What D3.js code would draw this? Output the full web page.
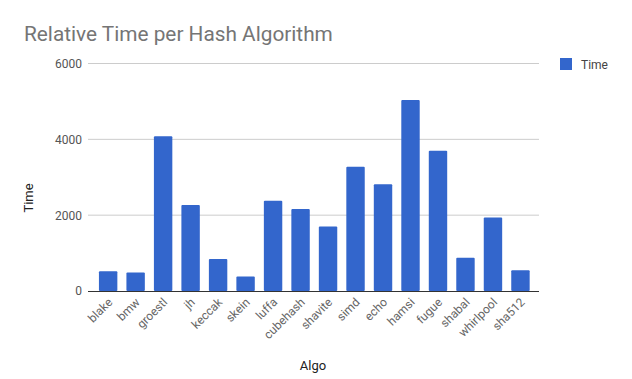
<!DOCTYPE html>
<html><head><meta charset="utf-8">
<script src="https://cdn.jsdelivr.net/npm/d3@7"></script>
<style>body{margin:0;background:#fff}svg{display:block;font-family:Roboto,Arial,sans-serif}</style>
</head><body><svg id="c" width="632" height="379"></svg>
<script>
const categories = ["blake","bmw","groestl","jh","keccak","skein","luffa","cubehash","shavite","simd","echo","hamsi","fugue","shabal","whirlpool","sha512"];
const timeValues = [520,490,4080,2270,845,380,2380,2160,1700,3280,2815,5040,3700,875,1940,545];
const yTicks = [0,2000,4000,6000];
const seriesName = "Time";

const svg = d3.select("#c");
const x = d3.scaleBand().domain(categories).range([94.4,534.2]).paddingInner(0.33).paddingOuter(0.165);
const y = d3.scaleLinear().domain([0,6000]).range([291,63.5]);

svg.append("text").attr("x",24).attr("y",41).attr("font-size",20.8).attr("fill","#757575").text("Relative Time per Hash Algorithm");

// gridlines
svg.append("g").selectAll("line").data(yTicks.filter(d=>d>0)).join("line")
  .attr("x1",88).attr("x2",539).attr("y1",d=>y(d)).attr("y2",d=>y(d))
  .attr("stroke","#cccccc").attr("stroke-width",1);

// y axis labels
const ya = svg.append("g").attr("transform","translate(88,0)").call(d3.axisLeft(y).tickValues(yTicks).tickSize(0).tickPadding(6).tickFormat(d3.format("d")));
ya.select(".domain").remove();
ya.selectAll("text").attr("font-size",12).attr("fill","#555").attr("font-family","Roboto,Arial,sans-serif");

// bars
svg.append("g").selectAll("rect").data(categories).join("rect")
  .attr("x",d=>x(d)).attr("width",x.bandwidth())
  .attr("y",(d,i)=>y(timeValues[i])).attr("height",(d,i)=>y(0)-y(timeValues[i]))
  .attr("fill","#3366cc").attr("rx",1);

// x axis
const xa = svg.append("g").attr("transform","translate(0,291)").call(d3.axisBottom(x).tickSize(0).tickPadding(0));
xa.select(".domain").remove();
xa.selectAll("text").attr("font-size",12).attr("fill","#666").attr("font-family","Roboto,Arial,sans-serif")
  .attr("text-anchor","end").attr("dy",null).attr("y",0)
  .attr("transform","translate(5,12) rotate(-45)");
svg.append("line").attr("x1",88).attr("x2",539).attr("y1",291.5).attr("y2",291.5).attr("stroke","#333").attr("stroke-width",1);

// axis titles
svg.append("text").attr("transform","translate(33,198) rotate(-90)").attr("text-anchor","middle").attr("font-size",13).attr("fill","#222").text("Time");
svg.append("text").attr("x",313).attr("y",370).attr("text-anchor","middle").attr("font-size",13).attr("fill","#222").text("Algo");

// legend
svg.append("rect").attr("x",560).attr("y",58).attr("width",12).attr("height",12).attr("fill","#3366cc");
svg.append("text").attr("x",581).attr("y",68.5).attr("font-size",12).attr("fill","#444").text(seriesName);
</script></body></html>
